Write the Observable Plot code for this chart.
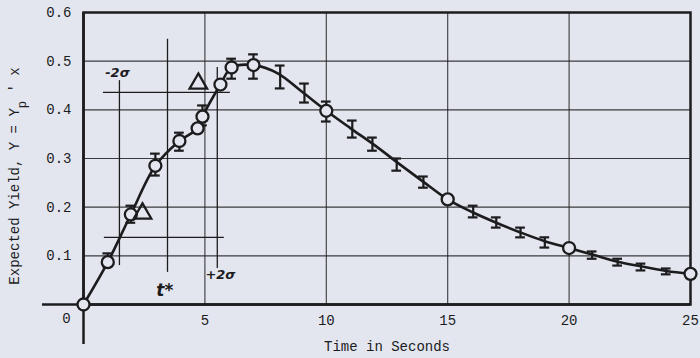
<!DOCTYPE html>
<html>
<head>
<meta charset="utf-8">
<script src="https://cdn.jsdelivr.net/npm/d3@7"></script>
<script src="https://cdn.jsdelivr.net/npm/@observablehq/plot@0.6"></script>
<style>
  html, body { margin: 0; padding: 0; background: #e3e6ee; }
  #chart { width: 700px; height: 358px; }
</style>
</head>
<body>
<div id="chart"></div>
<script>
// Measured points (open circles)
const circT = [0, 1, 1.95, 2.96, 3.95, 4.7, 4.9, 5.64, 6.1, 7.0, 10.0, 15.0, 20.0, 25.0];
const circY = [0, 0.087, 0.185, 0.285, 0.336, 0.362, 0.386, 0.452, 0.487, 0.492, 0.398, 0.216, 0.116, 0.063];

// Error bars
const errT  = [1, 1.95, 2.96, 3.95, 4.9, 6.1, 7.0, 8.1, 9.1, 10.0, 11.07, 11.9, 12.9, 14.0, 16.05, 17.0, 18.0, 19.0, 20.95, 22.0, 22.96, 24.0];
const errLo = [0.078, 0.168, 0.265, 0.316, 0.368, 0.464, 0.464, 0.444, 0.415, 0.376, 0.343, 0.316, 0.275, 0.240, 0.179, 0.158, 0.138, 0.117, 0.094, 0.080, 0.070, 0.062];
const errHi = [0.105, 0.203, 0.310, 0.353, 0.409, 0.505, 0.514, 0.491, 0.454, 0.417, 0.378, 0.343, 0.300, 0.263, 0.203, 0.179, 0.158, 0.138, 0.109, 0.094, 0.084, 0.074];

// Fitted curve
const fitT = [0, 1, 1.95, 2.96, 3.95, 4.7, 4.9, 5.64, 6.1, 7, 8, 9, 10, 11, 12, 13, 14, 15, 16, 17, 18, 19, 20, 21, 22, 23, 24, 25];
const fitY = [0, 0.087, 0.185, 0.285, 0.336, 0.362, 0.386, 0.452, 0.487, 0.492, 0.475, 0.437, 0.398, 0.362, 0.327, 0.289, 0.252, 0.216, 0.190, 0.168, 0.148, 0.130, 0.116, 0.102, 0.088, 0.078, 0.069, 0.063];

// Triangles
const triT = [4.73, 2.43];
const triY = [0.454, 0.187];

// Annotation lines
const vLineT  = [1.48, 3.46, 5.51];
const vLineLo = [0.080, 0.066, 0.074];
const vLineHi = [0.460, 0.545, 0.487];
const hLineY    = [0.436, 0.138];
const hLineFrom = [0.82, 0.86];
const hLineTo   = [6.05, 5.80];

// Annotation texts
const noteText = ["-2σ", "+2σ", "t*"];
const noteT = [1.4, 5.64, 3.35];
const noteY = [0.477, 0.060, 0.028];
const noteSize = [13, 13, 17];

// Axes
const xTicks = [0, 5, 10, 15, 20, 25];
const yTicks = [0.1, 0.2, 0.3, 0.4, 0.5, 0.6];
const xGrid = [5, 10, 15, 20];
const yGrid = [0.1, 0.2, 0.3, 0.4, 0.5];
const xTitle = "Time in Seconds";

const bg = "#e3e6ee";
const ink = "#1c1c1e";
const capW = 0.2;
const idx = a => a.map((_, i) => i);

const plot = Plot.plot({
  width: 700,
  height: 358,
  marginLeft: 83,
  marginRight: 10,
  marginTop: 12,
  marginBottom: 54,
  x: {domain: [0, 25]},
  y: {domain: [0, 0.6]},
  style: {background: bg, color: ink, fontFamily: "Liberation Mono, monospace", fontSize: "14px"},
  marks: [
    Plot.ruleX(xGrid, {stroke: ink, strokeWidth: 1.1, strokeOpacity: 0.85}),
    Plot.ruleY(yGrid, {stroke: ink, strokeWidth: 1.1, strokeOpacity: 0.85}),
    Plot.ruleX(idx(vLineT), {x: i => vLineT[i], y1: i => vLineLo[i], y2: i => vLineHi[i], stroke: ink, strokeWidth: 1.3}),
    Plot.ruleY(idx(hLineY), {y: i => hLineY[i], x1: i => hLineFrom[i], x2: i => hLineTo[i], stroke: ink, strokeWidth: 1.3}),
    Plot.frame({stroke: ink, strokeWidth: 2.5}),
    Plot.ruleY([0], {stroke: ink, strokeWidth: 2.5, insetLeft: -41}),
    Plot.ruleX([0], {stroke: ink, strokeWidth: 2.5, insetBottom: -40}),
    Plot.axisX(xTicks.filter(t => t > 0), {tickSize: 0, tickPadding: 11, label: null, fontSize: 14}),
    Plot.text([xTicks[0]], {x: d => d, frameAnchor: "bottom", dy: 18, dx: -17, text: d => String(d), fontSize: 14}),
    Plot.axisY(yTicks, {tickSize: 0, tickPadding: 12, label: null, fontSize: 14, tickFormat: d3.format(".1f")}),
    Plot.text([xTitle], {frameAnchor: "bottom", dy: 46, text: d => d, fontSize: 14}),
    Plot.ruleX(idx(errT), {x: i => errT[i], y1: i => errLo[i], y2: i => errHi[i], stroke: ink, strokeWidth: 2.2}),
    Plot.ruleY(idx(errT), {y: i => errLo[i], x1: i => errT[i] - capW, x2: i => errT[i] + capW, stroke: ink, strokeWidth: 2.2}),
    Plot.ruleY(idx(errT), {y: i => errHi[i], x1: i => errT[i] - capW, x2: i => errT[i] + capW, stroke: ink, strokeWidth: 2.2}),
    Plot.line(idx(fitT), {x: i => fitT[i], y: i => fitY[i], curve: "catmull-rom", stroke: ink, strokeWidth: 2.6}),
    Plot.dot(idx(circT), {x: i => circT[i], y: i => circY[i], r: 6, stroke: ink, strokeWidth: 2.3, fill: bg}),
    Plot.dot(idx(triT), {x: i => triT[i], y: i => triY[i], symbol: "triangle", r: 6.5, stroke: ink, strokeWidth: 2.3, fill: "none"}),
    Plot.text(idx(noteText), {x: i => noteT[i], y: i => noteY[i], text: i => noteText[i], fontSize: i => noteSize[i], fontFamily: "DejaVu Sans", fontWeight: "bold", fontStyle: "italic", fill: ink})
  ]
});

const svg = d3.select(plot);
const lab = svg.append("text")
  .attr("transform", "translate(19,176) rotate(-90)")
  .attr("text-anchor", "middle")
  .attr("fill", ink)
  .style("font-family", "Liberation Mono, monospace")
  .style("font-size", "14px");
lab.append("tspan").text("Expected Yield, Y = Y");
lab.append("tspan").attr("dy", 7).style("font-size", "12px").text("p");
lab.append("tspan").attr("dy", -7).text(" ' x");

document.getElementById("chart").appendChild(plot);
</script>
</body>
</html>
